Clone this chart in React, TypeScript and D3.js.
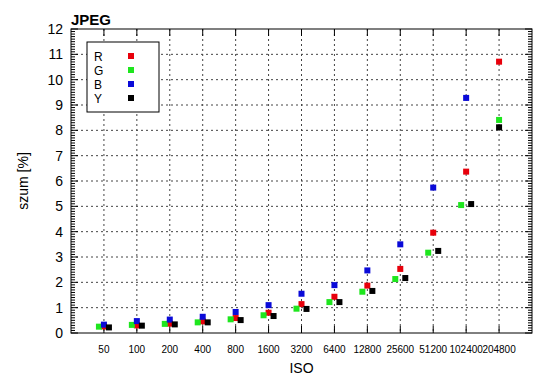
import React from "react";
import * as d3 from "d3";

const isoLabels = ["50", "100", "200", "400", "800", "1600", "3200", "6400", "12800", "25600", "51200", "102400", "204800"];
const rValues = [0.26, 0.3, 0.37, 0.46, 0.59, 0.8, 1.14, 1.43, 1.87, 2.53, 3.96, 6.37, 10.71];
const gValues = [0.25, 0.32, 0.36, 0.42, 0.54, 0.7, 0.96, 1.22, 1.63, 2.13, 3.17, 5.05, 8.41];
// B has no point at 204800 in the picture
const bValues = [0.33, 0.47, 0.53, 0.64, 0.83, 1.1, 1.55, 1.89, 2.47, 3.5, 5.74, 9.28];
const yValues = [0.22, 0.29, 0.34, 0.42, 0.51, 0.67, 0.95, 1.22, 1.66, 2.17, 3.24, 5.09, 8.12];
const yTicks = [0, 1, 2, 3, 4, 5, 6, 7, 8, 9, 10, 11, 12];

const series = [
  { name: "R", color: "#e8000b", values: rValues, dx: 0 },
  { name: "G", color: "#1ee61e", values: gValues, dx: -5 },
  { name: "B", color: "#0a0ad8", values: bValues, dx: 0 },
  { name: "Y", color: "#000000", values: yValues, dx: 5 },
];

const W = 550;
const H = 389;
const margin = { top: 29, right: 18, bottom: 56, left: 71 };
const font = "'Liberation Sans', Arial, sans-serif";

export default function App() {
  const x = d3
    .scaleLinear()
    .domain([-1, isoLabels.length])
    .range([margin.left, W - margin.right]);
  const y = d3
    .scaleLinear()
    .domain([0, 12])
    .range([H - margin.bottom, margin.top]);

  const left = margin.left;
  const right = W - margin.right;
  const top = margin.top;
  const bottom = H - margin.bottom;
  const minor = d3.range(0, 120).map((d) => d / 10).filter((d) => d % 1 !== 0);
  const sq = 6;

  // G and Y are nudged apart only where they would sit on top of each other
  const shift = (dx: number, i: number) =>
    Math.abs(gValues[i] - yValues[i]) < 0.15 ? dx : 0;

  return (
    <svg width={W} height={H} style={{ position: "absolute", left: 0, top: 0, background: "#fff" }}>
      <rect x={0} y={0} width={W} height={H} fill="#fff" />
      {/* grid */}
      {yTicks.slice(1, -1).map((t) => (
        <line key={"gy" + t} x1={left} x2={right} y1={y(t)} y2={y(t)} stroke="#444" strokeWidth={1} strokeDasharray="2,3" />
      ))}
      {isoLabels.map((l, i) => (
        <line key={"gx" + l} x1={x(i)} x2={x(i)} y1={top} y2={bottom} stroke="#444" strokeWidth={1} strokeDasharray="2,3" />
      ))}
      {/* ticks */}
      {yTicks.map((t) => (
        <g key={"ty" + t}>
          <line x1={left} x2={left + 7} y1={y(t)} y2={y(t)} stroke="#000" />
          <line x1={right - 7} x2={right} y1={y(t)} y2={y(t)} stroke="#000" />
          <text x={left - 8} y={y(t)} dy="0.36em" textAnchor="end" fontSize={14} fontFamily={font}>
            {t}
          </text>
        </g>
      ))}
      {minor.map((t) => (
        <g key={"my" + t}>
          <line x1={left} x2={left + 4} y1={y(t)} y2={y(t)} stroke="#000" />
          <line x1={right - 4} x2={right} y1={y(t)} y2={y(t)} stroke="#000" />
        </g>
      ))}
      {isoLabels.map((l, i) => (
        <g key={"tx" + l}>
          <line x1={x(i)} x2={x(i)} y1={bottom} y2={bottom - 7} stroke="#000" />
          <line x1={x(i)} x2={x(i)} y1={top} y2={top + 7} stroke="#000" />
          <text x={x(i)} y={bottom + 20} textAnchor="middle" fontSize={10} fontFamily={font}>
            {l}
          </text>
        </g>
      ))}
      <rect x={left} y={top} width={right - left} height={bottom - top} fill="none" stroke="#000" strokeWidth={1} />
      {/* points */}
      {series.map((s) =>
        s.values.map((v, i) => (
          <rect key={s.name + i} x={x(i) + shift(s.dx, i) - sq / 2} y={y(v) - sq / 2} width={sq} height={sq} fill={s.color} />
        ))
      )}
      {/* legend */}
      <rect x={87} y={42} width={72} height={70} fill="#fff" stroke="#000" strokeWidth={1} />
      {series.map((s, i) => (
        <g key={"lg" + s.name}>
          <text x={94} y={60.5 + i * 14} fontSize={12} fontFamily={font}>
            {s.name}
          </text>
          <rect x={131 - sq / 2} y={56 + i * 14 - sq / 2} width={sq} height={sq} fill={s.color} />
        </g>
      ))}
      <text x={71} y={25} fontSize={15} fontWeight="bold" fontFamily={font}>
        JPEG
      </text>
      <text x={(left + right) / 2} y={373} textAnchor="middle" fontSize={14} fontFamily={font}>
        ISO
      </text>
      <text transform={`translate(28, ${(top + bottom) / 2}) rotate(-90)`} textAnchor="middle" fontSize={14} fontFamily={font}>
        szum [%]
      </text>
    </svg>
  );
}
